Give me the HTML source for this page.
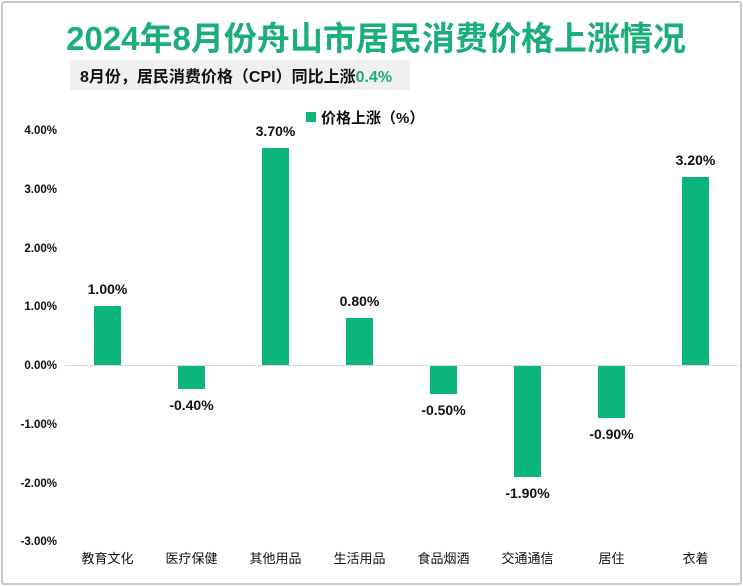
<!DOCTYPE html>
<html><head><meta charset="utf-8"><style>
html,body{margin:0;padding:0;background:#fff}
body{width:743px;height:587px;position:relative;overflow:hidden;font-family:"Liberation Sans","Noto Sans CJK SC",sans-serif}
.frame{position:absolute;left:1px;top:1px;width:737px;height:580px;border:2px solid #c8c8c8;border-radius:3px}
</style></head><body>
<div class="frame"></div>
<svg width="743" height="587" style="position:absolute;left:0;top:0" font-family="Liberation Sans, Noto Sans CJK SC, sans-serif">
<text x="376" y="50" text-anchor="middle" font-size="33" font-weight="bold" fill="#1aae79">2024年8月份舟山市居民消费价格上涨情况</text>
<rect x="70" y="60" width="340" height="30" fill="#f0f0f0"/>
<text x="80" y="82" font-size="16" font-weight="bold" fill="#111">8月份，居民消费价格（CPI）同比上涨<tspan fill="#1aae79">0.4%</tspan></text>
<rect x="306" y="112" width="10" height="10" fill="#0db57e"/>
<text x="321" y="123" font-size="15" font-weight="bold" fill="#111">价格上涨（%）</text>
<g font-size="11.5" font-weight="bold" fill="#111" text-anchor="end">
<text x="57" y="134">4.00%</text><text x="57" y="193">3.00%</text><text x="57" y="252">2.00%</text><text x="57" y="310">1.00%</text><text x="57" y="369">0.00%</text><text x="57" y="428">-1.00%</text><text x="57" y="487">-2.00%</text><text x="57" y="545">-3.00%</text>
</g>
<line x1="65" y1="365.5" x2="738" y2="365.5" stroke="#d9d9d9" stroke-width="1"/>
<g fill="#0db57e">
<rect x="94" y="306" width="27" height="59"/>
<rect x="178" y="366" width="27" height="23"/>
<rect x="262" y="148" width="27" height="217"/>
<rect x="346" y="318" width="27" height="47"/>
<rect x="430" y="366" width="27" height="28"/>
<rect x="514" y="366" width="27" height="111"/>
<rect x="598" y="366" width="27" height="52"/>
<rect x="682" y="177" width="27" height="188"/>
</g>
<g font-size="14" font-weight="bold" fill="#111" text-anchor="middle">
<text x="107.5" y="294">1.00%</text>
<text x="191.5" y="410">-0.40%</text>
<text x="275.5" y="136">3.70%</text>
<text x="359.5" y="306">0.80%</text>
<text x="443.5" y="415">-0.50%</text>
<text x="527.5" y="498">-1.90%</text>
<text x="611.5" y="439">-0.90%</text>
<text x="695.5" y="165">3.20%</text>
</g>
<g font-size="13" fill="#111" text-anchor="middle">
<text x="107.5" y="563">教育文化</text><text x="191.5" y="563">医疗保健</text><text x="275.5" y="563">其他用品</text><text x="359.5" y="563">生活用品</text><text x="443.5" y="563">食品烟酒</text><text x="527.5" y="563">交通通信</text><text x="611.5" y="563">居住</text><text x="695.5" y="563">衣着</text>
</g>
</svg>
</body></html>
